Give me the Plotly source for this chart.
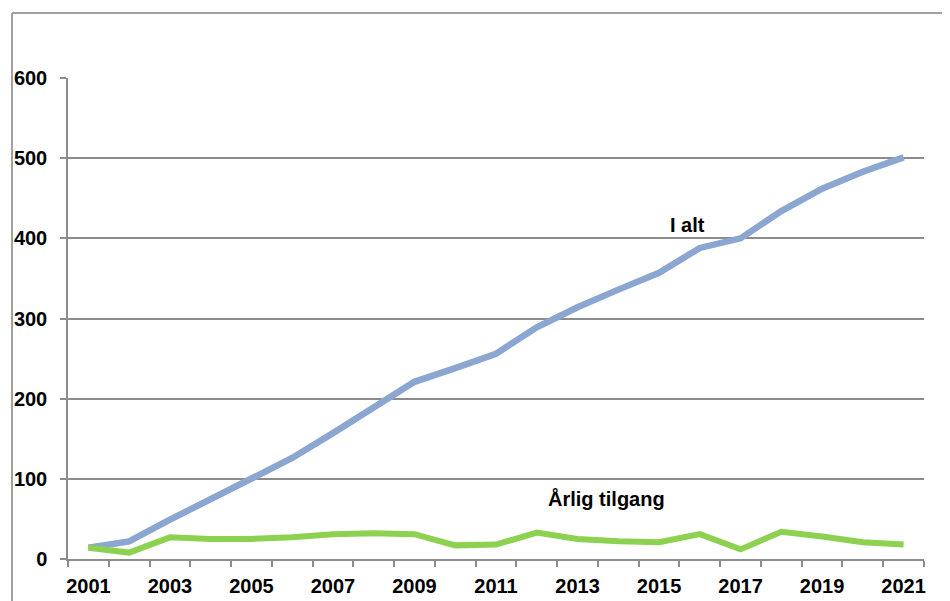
import plotly.graph_objects as go

years = list(range(2001, 2022))
i_alt = [14, 22, 49, 74, 99, 126, 157, 189, 221, 238, 256, 289, 314, 336, 357, 388, 400, 434, 462, 483, 501]
aarlig = [14, 8, 27, 25, 25, 27, 31, 32, 31, 17, 18, 33, 25, 22, 21, 31, 12, 34, 28, 21, 18]
xlabels = [str(y) for y in range(2001, 2022, 2)]
label_ialt = "I alt"
label_aarlig = "Årlig tilgang"

FONT = "Liberation Sans, Arial, sans-serif"
GRAY = "#8c8c8c"

fig = go.Figure()
fig.add_trace(go.Scatter(x=years, y=i_alt, mode="lines",
                         line=dict(color="#8BA6D0", width=6.5), name=label_ialt))
fig.add_trace(go.Scatter(x=years, y=aarlig, mode="lines",
                         line=dict(color="#8DD150", width=6), name=label_aarlig))

fig.add_annotation(x=2015.7, y=417, text="<b>" + label_ialt + "</b>", showarrow=False,
                   font=dict(family=FONT, size=20, color="black"), xanchor="center", yanchor="middle")
fig.add_annotation(x=2013.7, y=76, text="<b>" + label_aarlig + "</b>", showarrow=False,
                   font=dict(family=FONT, size=20, color="black"), xanchor="center", yanchor="middle")

fig.update_layout(
    width=942, height=593,
    margin=dict(l=60, r=26, t=70, b=42, autoexpand=False),
    paper_bgcolor="white", plot_bgcolor="white",
    showlegend=False,
    font=dict(family=FONT, size=20, color="black"),
    shapes=[
        dict(type="line", xref="paper", yref="paper", x0=-0.0654, x1=-0.0654, y0=1.135, y1=-0.2,
             line=dict(color="#a0a0a0", width=2)),
        dict(type="line", xref="paper", yref="paper", x0=-0.0654, x1=1.1, y0=1.135, y1=1.135,
             line=dict(color="#a0a0a0", width=2)),
    ],
)

fig.update_xaxes(
    range=[2000.5, 2021.5], automargin=False,
    tickmode="array", tickvals=list(range(2001, 2022, 2)), ticktext=xlabels,
    ticks="", showgrid=False, zeroline=False,
    showline=True, linecolor=GRAY, linewidth=1.5,
    tickfont=dict(family=FONT, size=20, color="black", weight="bold"),
    ticklabelstandoff=8,
    minor=dict(ticks="outside", tick0=2000.5, dtick=1, ticklen=6, tickcolor=GRAY, tickwidth=1.5, showgrid=False),
)
fig.update_yaxes(
    range=[0, 600], tick0=0, dtick=100, automargin=False,
    ticks="outside", ticklen=6, tickcolor=GRAY, tickwidth=1.5,
    showgrid=True, gridcolor=GRAY, gridwidth=1.5, zeroline=False,
    showline=True, linecolor=GRAY, linewidth=1.5,
    tickfont=dict(family=FONT, size=20, color="black", weight="bold"),
    ticklabelstandoff=9,
)

fig.write_html("out.html")
